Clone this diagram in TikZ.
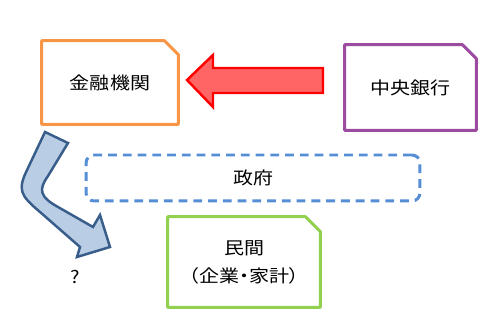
\documentclass[tikz,border=0pt]{standalone}
\usepackage{fontspec}
\newfontfamily\jpfont[FakeStretch=1.15,RawFeature=+palt]{Noto Sans CJK JP}
\usepackage{tikz}
\usetikzlibrary{positioning}
\definecolor{bankorange}{RGB}{247,150,70}
\definecolor{cbpurple}{RGB}{155,75,160}
\definecolor{privgreen}{RGB}{146,208,80}
\definecolor{govblue}{RGB}{85,142,213}
\definecolor{flowfill}{RGB}{185,205,229}
\definecolor{flowline}{RGB}{56,93,138}
\definecolor{moneyfill}{RGB}{255,101,101}

\begin{document}
\begin{tikzpicture}[x=0.02cm, y=-0.02cm,
  box/.style={inner sep=0pt, align=center, font=\jpfont\fontsize{9.9pt}{16pt}\selectfont},
  snip/.style={line width=1.7pt, line join=round},
  govbox/.style={draw=govblue, line width=1.7pt, dash pattern=on 5pt off 3.4pt,
    rounded corners=0.16cm},
  money/.style={draw=red, fill=moneyfill, line width=1.4pt, line join=miter},
  flow/.style={draw=flowline, fill=flowfill, line width=1.4pt, line join=miter},
]
\useasboundingbox (0,0) rectangle (500,333);

\node[box, minimum width=2.72cm, minimum height=1.66cm] (kinyu) at (110,82.5) {金融機関};
\node[box, minimum width=2.62cm, minimum height=1.70cm] (chuo) at (410.5,87.5) {中央銀行};
\node[box, govbox, minimum width=6.68cm, minimum height=0.92cm] (seifu) at (253,178) {政府};
\node[box, minimum width=3.04cm, minimum height=1.80cm] (minkan) at (244,262) {民間\\（企業・家計）};
\node[box] (hatena) at (75,277) {?};

% snipped boxes
\draw[snip, draw=bankorange] (kinyu.south west) -- (kinyu.north west)
  -- ([xshift=-0.28cm]kinyu.north east) -- ([yshift=-0.28cm]kinyu.north east)
  -- (kinyu.south east) -- cycle;
\draw[snip, draw=cbpurple] (chuo.south west) -- (chuo.north west)
  -- ([xshift=-0.28cm]chuo.north east) -- ([yshift=-0.28cm]chuo.north east)
  -- (chuo.south east) -- cycle;
\draw[snip, draw=privgreen] (minkan.south west) -- (minkan.north west)
  -- ([xshift=-0.3cm]minkan.north east) -- ([yshift=-0.3cm]minkan.north east)
  -- (minkan.south east) -- cycle;

% block arrows
\draw[money] (323,68) -- (213,68) -- (213,55) -- (187,80) -- (213,107)
  -- (213,93) -- (323,93) -- cycle;
\draw[flow] (45,132) -- (28,168) .. controls (17,190) and (20,195) .. (40,212)
  -- (80,247) -- (77,257) -- (110,247) -- (100,215) -- (93,227)
  -- (58,207) .. controls (40,197) and (38,190) .. (48,176) -- (68,143) -- cycle;

\end{tikzpicture}
\end{document}
